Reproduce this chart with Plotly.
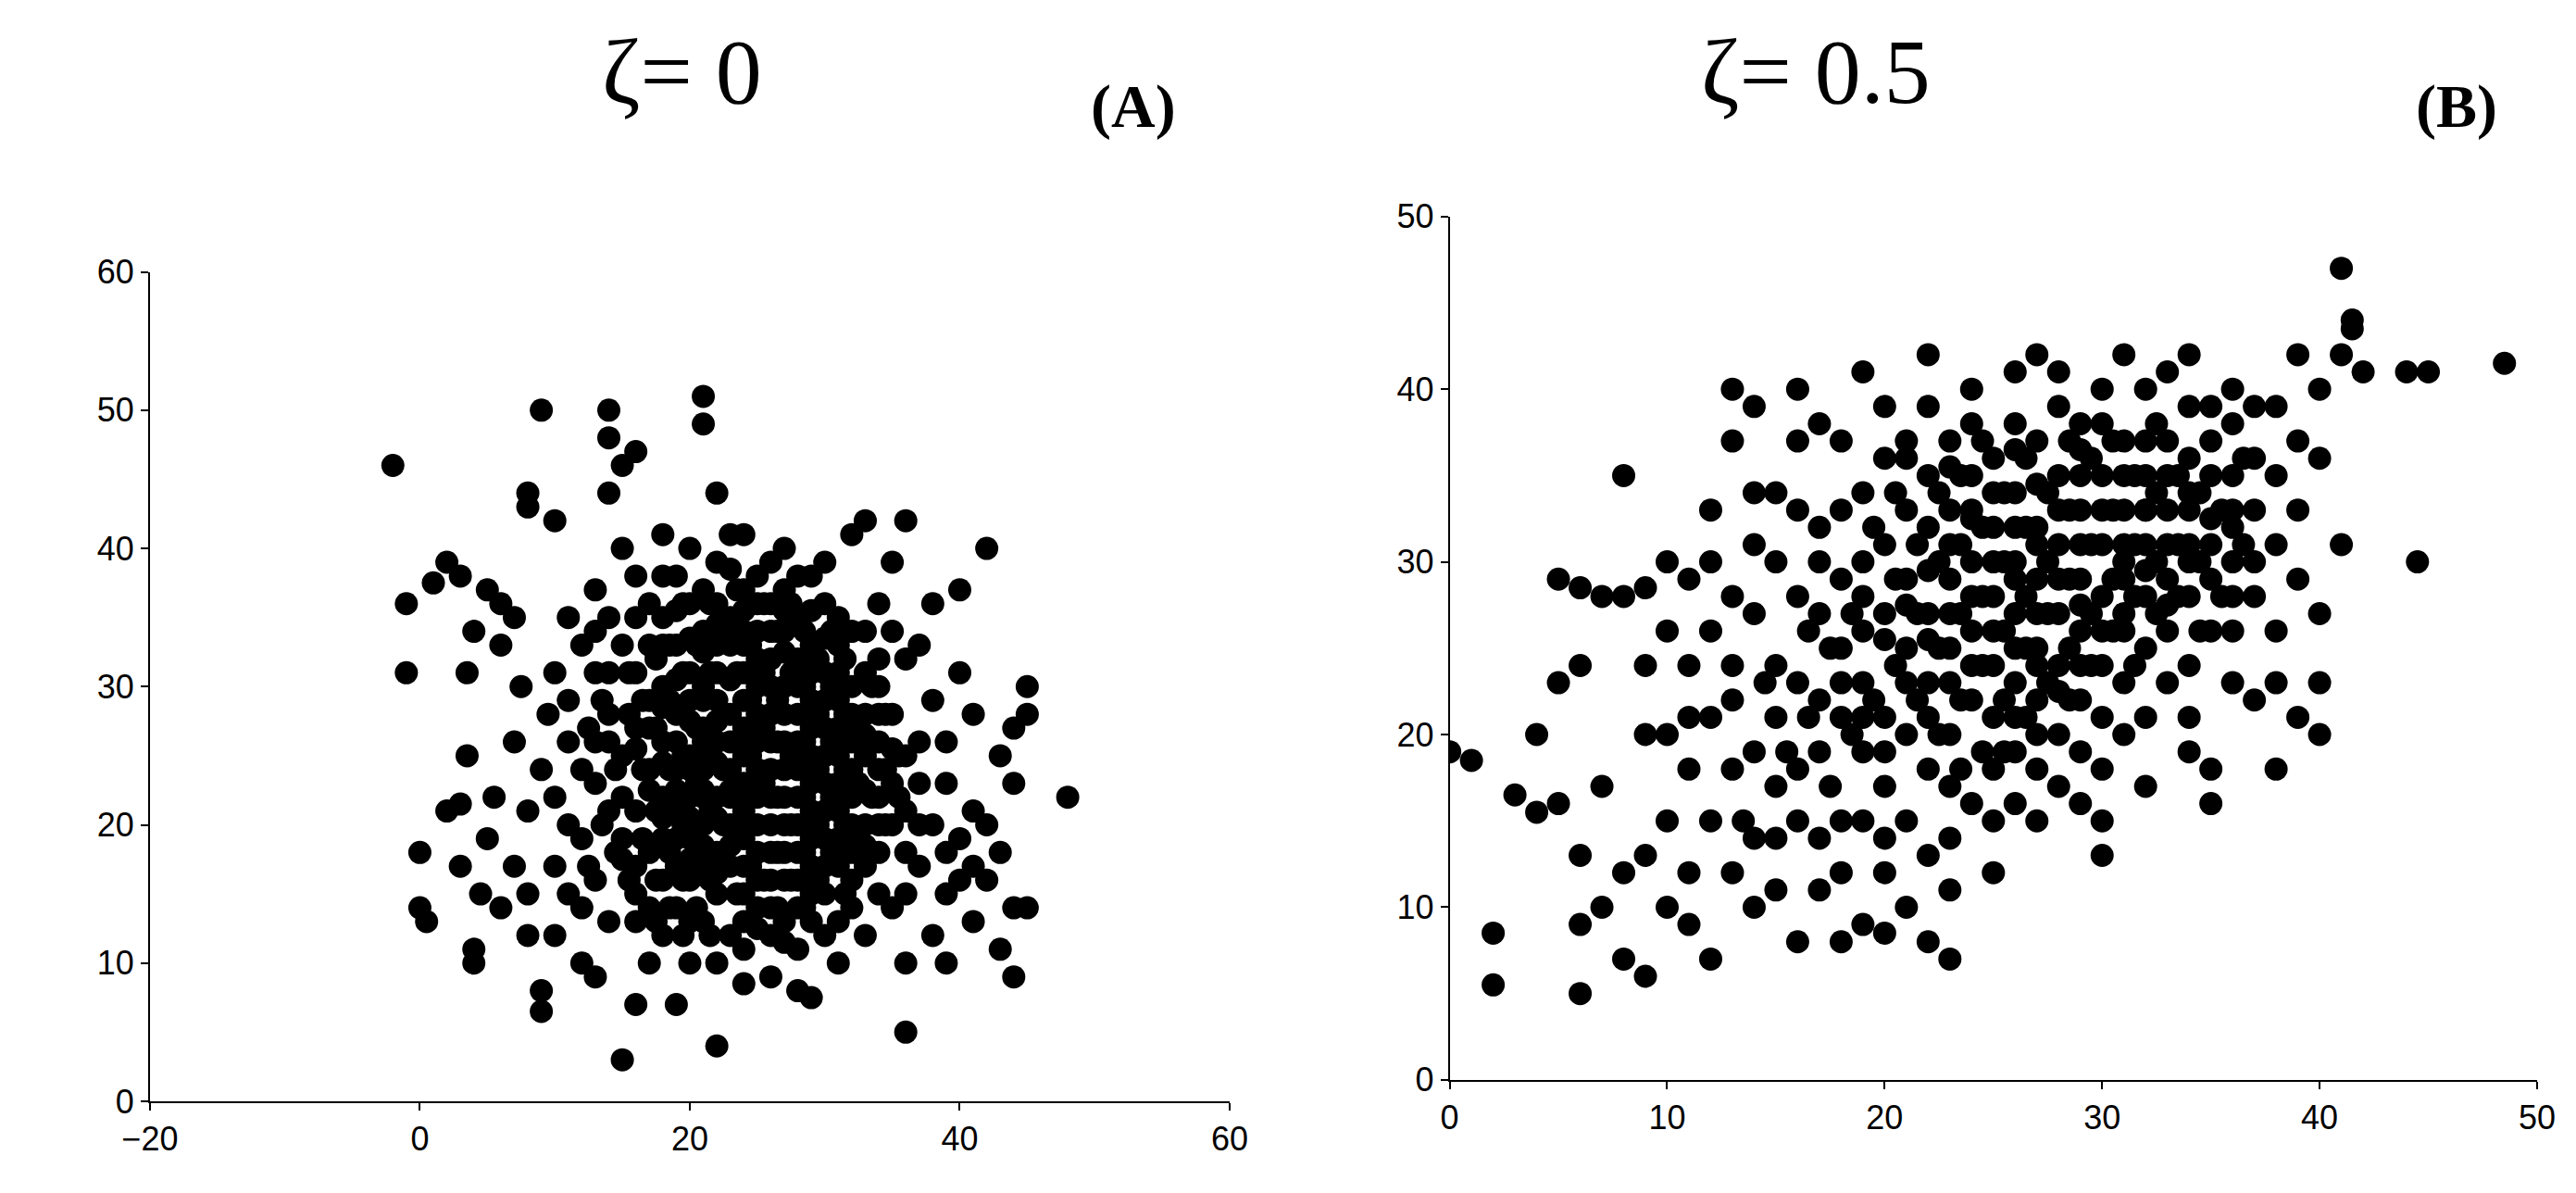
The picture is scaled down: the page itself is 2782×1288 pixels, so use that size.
import plotly.graph_objects as go

ptsA = [(-2,46),(-1,36),(-1,31),(0,18),(0,14),(0.5,13),(1,37.5),(2,21),(2,39),(3,21.5),(3,38),(3,17),(3.5,31),(3.5,25),(4,34),(4,11),(4,10),(4.5,15),(5,37),(5,19),(5.5,22),(6,33),(6,36),(6,14),(7,17),(7,35),(7,26),(7.5,30),(8,44),(8,43),(8,21),(8,15),(8,12),(9,50),(9,8),(9,6.5),(9,24),(9.5,28),(10,42),(10,17),(10,12),(10,31),(11,35),(11,26),(11,20),(12,10),(12,33),(12,14),(13,37),(13,23),(13,9),(14,50),(14,48),(14,44),(15,46),(15,3),(15,40),(16,7),(16,47),(16,17),(17,33),(17,10),(18,41),(18,30),(19,38),(19,7),(20,25),(20,13),(21,51),(21,49),(22,4),(22,44),(22,10),(23,41),(24,8.5),(25,38),(26,9),(27,40),(28,8),(29,7.5),(30,12),(31,10),(32,41),(33,42),(33,17),(34,36),(35,39),(35,14),(36,42),(36,5),(36,10),(37,33),(37,26),(37,20),(38,12),(38,36),(39,15),(39,23),(40,19),(40,37),(41,13),(41,21),(42,16),(42,40),(43,25),(43,18),(43,11),(44,27),(44,9),(44,14),(44,23),(45,30),(45,28),(45,14),(48,22),(39,10),(41,28),(33,25),(34,22),(36,15),(38,29),(40,31),(31,35),(29,38),(27,34),(22,36),(18,35),(16,31),(14,28),(12,19),(15,22),(17,14),(19,17),(13,16),(11,29),(14,35),(16,38),
 (15,25),(15,19),(16,27),(16,21),(16,13),(17,29),(17,24),(17,18),(17,36),(18,22),(18,26),(18,16),(18,12),(19,33),(19,28),(19,24),(19,21),(19,14),(20,36),(20,31),(20,29),(20,22),(20,19),(20,16),(20,10),(21,34),(21,27),(21,24),(21,20),(21,17),(21,13),(22,39),(22,31),(22,29),(22,26),(22,22),(22,18),(22,15),(23,35),(23,33),(23,28),(23,24),(23,20),(23,17),(23,12),(24,37),(24,31),(24,27),(24,23),(24,19),(24,15),(24,11),(25,34),(25,30),(25,26),(25,22),(25,18),(25,14),(26,36),(26,32),(26,28),(26,24),(26,20),(26,16),(26,12),(27,37),(27,30),(27,26),(27,22),(27,18),(27,13),(28,35),(28,32),(28,28),(28,24),(28,20),(28,16),(28,11),(29,33),(29,29),(29,25),(29,21),(29,17),(29,13),(30,36),(30,31),(30,27),(30,23),(30,19),(30,15),(31,33),(31,29),(31,25),(31,21),(31,17),(31,13),(32,30),(32,26),(32,22),(32,18),(32,14),(33,34),(33,28),(33,20),(33,12),(34,30),(34,26),(34,18),(34,15),(35,28),(35,23),(35,20),(36,32),(36,25),(36,18),(37,17),(37,23),(38,20),(39,18),(39,26),(40,16),(41,17),(42,20),(13,26),(13,31),(14,21),(14,13),(12,24),(11,15),(10,22),(15,33),(16,35),(18,38),(20,40),(24,41),(26,39),(28,38),(30,39),(24,34),(22,33),(21,30),(23,26),(25,28),(27,28),(26,30),(19,26),(18,19),(21,22),(23,22),(27,24),(29,27),(31,27),(33,31),(32,34),(34,32),(35,34),
 (16.5,24),(16.5,29),(16.5,19),(17.5,21),(17.5,27),(17.5,32),(17.5,16),(18.5,24),(18.5,29),(18.5,33),(18.5,18),(18.5,14),(19.5,20),(19.5,25),(19.5,31),(19.5,36),(19.5,16),(20.5,23),(20.5,27),(20.5,33),(20.5,18),(20.5,14),(21.5,21),(21.5,25),(21.5,31),(21.5,36),(21.5,16),(21.5,12),(22.5,24),(22.5,20),(22.5,28),(22.5,34),(22.5,17),(23.5,22),(23.5,26),(23.5,31),(23.5,37),(23.5,15),(24.5,20),(24.5,25),(24.5,29),(24.5,33),(24.5,17),(24.5,13),(25.5,23),(25.5,27),(25.5,31),(25.5,36),(25.5,16),(26.5,22),(26.5,26),(26.5,29),(26.5,34),(26.5,18),(26.5,14),(27.5,20),(27.5,25),(27.5,31),(27.5,36),(27.5,16),(28.5,22),(28.5,26),(28.5,30),(28.5,34),(28.5,18),(28.5,14),(29.5,20),(29.5,24),(29.5,28),(29.5,32),(29.5,16),(30.5,22),(30.5,26),(30.5,30),(30.5,34),(30.5,18),(31.5,20),(31.5,24),(31.5,28),(31.5,32),(31.5,15),(32.5,23),(32.5,27),(32.5,19),(33.5,22),(33.5,26),(33.5,30),(34.5,20),(34.5,24),(34.5,28),(35.5,25),(35.5,22),(15.5,28),(15.5,16),(15.5,31),(14.5,24),(14.5,18),(13.5,20),(13.5,29),(12.5,27),(12.5,17),
 (16,25.5),(17,22.5),(17,27),(18,20.5),(18,24.5),(18,28.5),(18,33),(19,19),(19,22.5),(19,30.5),(19,35.5),(20,20.5),(20,24),(20,27.5),(20,33.5),(20,17.5),(21,18.5),(21,22.5),(21,26),(21,29),(21,32.5),(21,37),(22,16.5),(22,20.5),(22,24.5),(22,27.5),(22,34.5),(23,18.5),(23,22.5),(23,30.5),(23,38.5),(24,13),(24,17),(24,21),(24,25),(24,29),(24,33),(24,35.5),(25,12.5),(25,16),(25,20),(25,24),(25,32),(25,36),(26,14),(26,18),(26,22),(26,26),(26,34),(27,11.5),(27,16),(27,20),(27,32.5),(27,35.5),(28,14),(28,18),(28,22),(28,26),(28,30),(29,15),(29,19),(29,23),(29,31),(29,35.5),(30,17),(30,21),(30,25),(30,29),(30,33.5),(31,19),(31,23),(31,31),(32,16),(32,20),(32,24),(32,28),(33,18.5),(33,22.5),(33,26.5),(34,20),(34,24),(34,28),(35,25.5),(36,21),(19.5,12),(17.5,13),(16,15),(15,17.5),(14,26),(14,31),(13,34)]

# Panel B (zeta = 0.5) points
ptsB = [(0,19),(1,18.5),(2,8.5),(2,5.5),(3,16.5),(4,15.5),(4,20),(5,29),(5,23),(5,16),(6,28.5),(6,9),(6,5),(6,24),(6,13),(7,28),(7,10),(7,17),(8,35),(8,28),(8,12),(8,7),(9,6),(9,20),(9,28.5),(10,30),(10,15),(10,10),(11,18),(11,12),(11,29),(12,26),(12,33),(12,7),(13,40),(13,22),(13,37),(14,31),(14,39),(14,10),(15,34),(15,17),(16,37),(16,8),(16,40),(17,38),(17,27),(17,14),(18,33),(18,8),(19,41),(19,9),(20,36),(20,8.5),(20,12),(21,37),(22,8),(22,42),(23,7),(23,11),(24,40),(25,12),(26,41),(27,42),(27,15),(28,41),(29,16),(30,13),(30,15),(31,42),(31,20),(32,40),(33,41),(33,23),(34,42),(34,21),(35,35),(35,16),(35,18),(36,38),(36,26),(37,33),(37,28),(37,22),(38,18),(38,39),(38,26),(39,42),(39,33),(39,21),(40,40),(40,23),(40,27),(40,36),(41,31),(41,42),(41,47),(41.5,44),(41.5,43.5),(42,41),(44,41),(45,41),(44.5,30),(48.5,41.5),(40,20),(36,30),(34,33),(32,37),(30,38),(29,35),(26,38),(23,37),(21,33),(19,30),(18,25),(16,23),(14,19),(12,15),(10,20),(9,13),(11,24),(13,28),(15,30),(17,22),(19,19),(21,15),(23,14),(25,18),(27,20),(29,22),(31,26),(33,29),(35,31),(32,33),
 (15,14),(15,24),(16,18),(16,28),(17,32),(17,19),(18,21),(18,29),(18,15),(19,23),(19,34),(19,26),(20,17),(20,27),(20,31),(20,21),(21,20),(21,25),(21,29),(21,36),(22,18),(22,23),(22,27),(22,32),(22,35),(23,20),(23,25),(23,29),(23,33),(23,17),(24,16),(24,22),(24,26),(24,30),(24,35),(24,38),(25,21),(25,24),(25,28),(25,32),(25,36),(25,15),(26,19),(26,23),(26,27),(26,30),(26,34),(27,22),(27,25),(27,29),(27,32),(27,37),(27,18),(28,20),(28,24),(28,27),(28,31),(28,35),(28,39),(29,19),(29,26),(29,29),(29,33),(29,38),(30,21),(30,24),(30,28),(30,31),(30,35),(30,40),(31,23),(31,29),(31,33),(31,37),(32,25),(32,28),(32,31),(32,35),(32,21),(33,26),(33,33),(33,37),(34,24),(34,28),(34,31),(34,36),(35,26),(35,29),(35,39),(36,23),(36,33),(36,35),(37,30),(37,36),(38,31),(38,35),(38,23),(39,29),(39,37),(14,27),(13,18),(12,21),(11,9),(13,12),(14,14),(15,11),(16,15),(17,11),(18,12),(19,15),(20,14),(21,10),(22,13),(10,26),(9,24),(12,30),(14,34),(16,33),(18,37),(20,39),(22,39),(24,33),(26,25),(23,23),(21,23),(19,28),(17,30),(15,21),(13,24),(11,21),(26,16),(28,17),(30,18),(32,17),(34,19),(29,24),(31,31),(33,35),(35,37),(37,39),(36,40),(34,39),
 (18.5,20),(18.5,27),(19.5,22),(19.5,32),(20.5,24),(20.5,29),(20.5,34),(21.5,22),(21.5,27),(21.5,31),(22.5,20),(22.5,25),(22.5,30),(22.5,34),(23.5,22),(23.5,27),(23.5,31),(23.5,35),(24.5,19),(24.5,24),(24.5,28),(24.5,32),(24.5,37),(25.5,22),(25.5,26),(25.5,30),(25.5,34),(26.5,21),(26.5,25),(26.5,28),(26.5,32),(26.5,36),(27.5,23),(27.5,27),(27.5,30),(27.5,34),(28.5,22),(28.5,25),(28.5,29),(28.5,33),(28.5,37),(29.5,24),(29.5,27),(29.5,31),(29.5,36),(30.5,26),(30.5,29),(30.5,33),(30.5,37),(31.5,24),(31.5,28),(31.5,31),(31.5,35),(32.5,27),(32.5,30),(32.5,34),(32.5,38),(33.5,28),(33.5,31),(33.5,35),(34.5,30),(34.5,34),(34.5,26),(35.5,33),(35.5,28),(36.5,31),(36.5,36),(17.5,25),(17.5,17),(16.5,21),(16.5,26),(15.5,19),(14.5,23),(13.5,15),(25.5,19),(23.5,18),
 (20,25.5),(21,27.5),(22,25.5),(22,29.5),(23,27),(23,31),(24,24),(24,28),(24,32.5),(25,26),(25,30),(25,34),(26,21),(26,29),(26,32),(27,24),(27,27),(27,31),(27,34.5),(28,22.5),(28,29),(28,33),(29,27.5),(29,31),(30,26),(30,33),(31,27),(31,30),(31,35),(32,29.5),(32,33),(33,31),(33,27.5),(34,30),(34,34),(35,32.5),(36,28),(19,21),(18,23),(20,19),(22,21),(23,35.5),(26,36.5),(29,36.5),(36,32)]

xa = [p[0] for p in ptsA]; ya = [p[1] for p in ptsA]
xb = [p[0] for p in ptsB]; yb = [p[1] for p in ptsB]
titles = ["ζ= 0", "ζ= 0.5"]
labels = ["(A)", "(B)"]

fig = go.Figure()
mk = dict(color="black", size=25)
fig.add_trace(go.Scatter(x=xa, y=ya, mode="markers", marker=mk, xaxis="x", yaxis="y"))
fig.add_trace(go.Scatter(x=xb, y=yb, mode="markers", marker=mk, xaxis="x2", yaxis="y2"))

ax = dict(showgrid=False, zeroline=False, showline=True, linecolor="black", linewidth=2,
          ticks="outside", ticklen=8, tickcolor="black", tickwidth=2,
          tickfont=dict(family="Liberation Sans", size=36, color="black"))
fig.update_layout(
    width=2782, height=1288, showlegend=False, plot_bgcolor="white", paper_bgcolor="white",
    margin=dict(l=0, r=0, t=0, b=0),
    xaxis=dict(ax, domain=[0.045, 0.472], range=[-20, 60], dtick=20, anchor="y"),
    yaxis=dict(ax, domain=[0.069, 0.787], range=[0, 60], dtick=10, anchor="x"),
    xaxis2=dict(ax, domain=[0.559, 0.989], range=[0, 50], dtick=10, anchor="y2"),
    yaxis2=dict(ax, domain=[0.0875, 0.835], range=[0, 50], dtick=10, anchor="x2"),
    annotations=[
        dict(text=titles[0], x=0.223, y=0.96, xref="paper", yref="paper", yanchor="middle", showarrow=False,
             font=dict(family="Liberation Serif", size=100, color="black")),
        dict(text=titles[1], x=0.75, y=0.96, xref="paper", yref="paper", yanchor="middle", showarrow=False,
             font=dict(family="Liberation Serif", size=100, color="black")),
        dict(text="<b>%s</b>" % labels[0], x=0.434, y=0.93, xref="paper", yref="paper", yanchor="middle", showarrow=False,
             font=dict(family="Liberation Serif", size=66, color="black")),
        dict(text="<b>%s</b>" % labels[1], x=0.974, y=0.93, xref="paper", yref="paper", yanchor="middle", showarrow=False,
             font=dict(family="Liberation Serif", size=66, color="black")),
    ])
fig.write_html("out.html")
